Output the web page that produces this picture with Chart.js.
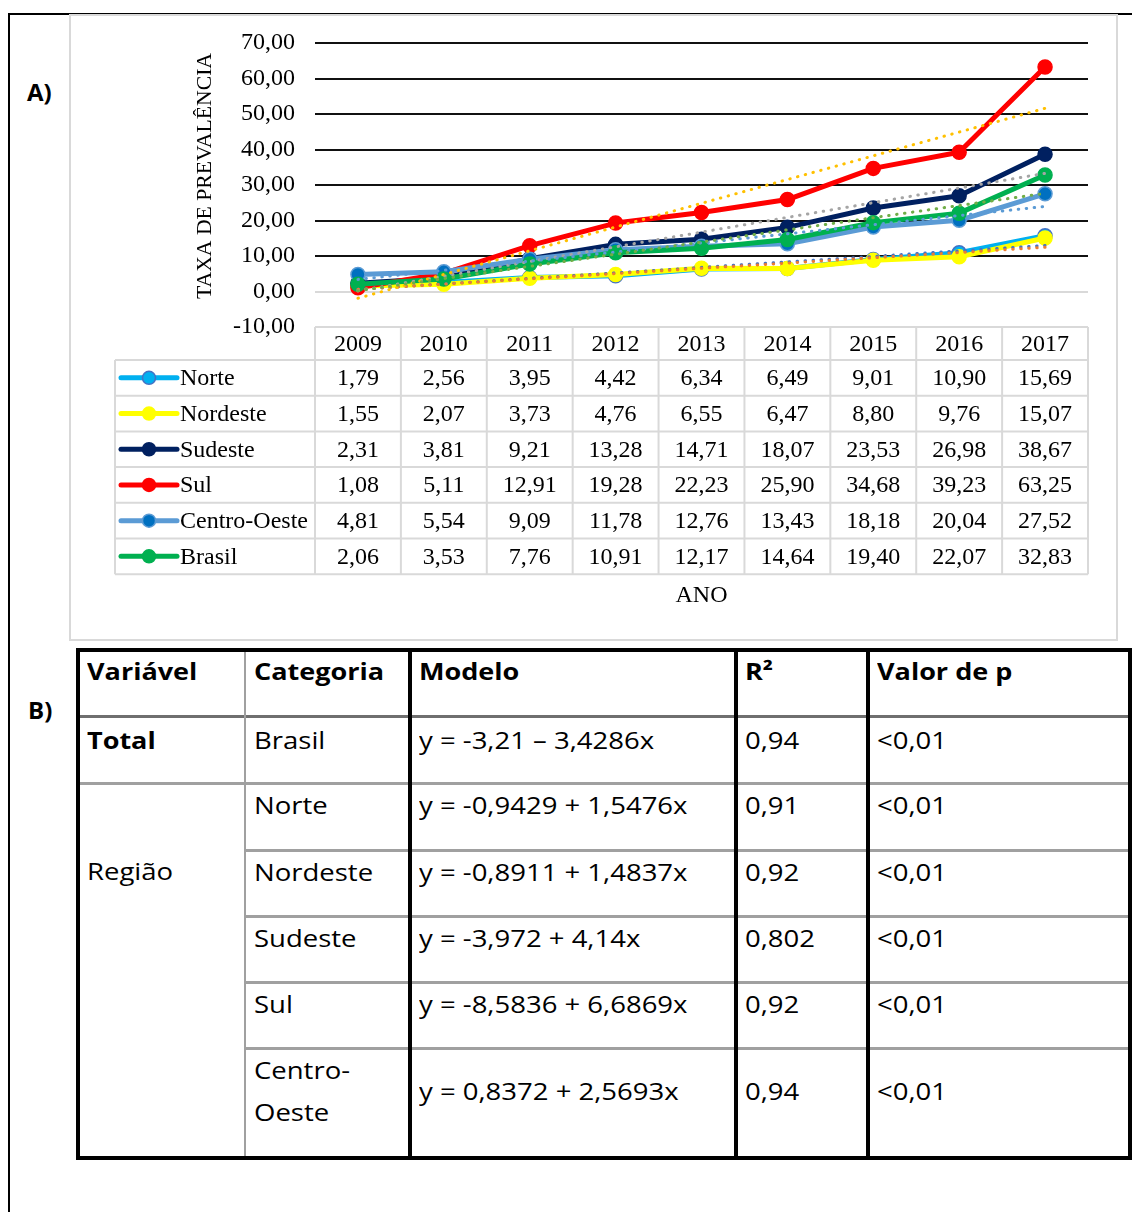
<!DOCTYPE html>
<html lang="pt-BR">
<head>
<meta charset="utf-8">
<title>Taxa de prevalência por região, 2009–2017</title>
<script src="https://cdn.jsdelivr.net/npm/chart.js@4.4.1/dist/chart.umd.min.js"></script>
<style>
  html, body { margin: 0; padding: 0; background: #fff; }
  body { width: 1132px; height: 1212px; position: relative; overflow: hidden; font-family: "Open Sans", sans-serif; }
  .frame { position: absolute; background: #000; }
  #caixa { position: absolute; left: 69px; top: 14px; width: 1049px; height: 627px; box-sizing: border-box; border: 2px solid #d9d9d9; }
  #grafico { position: absolute; left: 69px; top: 14px; }
  .painel { position: absolute; font-family: "Open Sans", sans-serif; font-weight: 700; font-size: 24px; line-height: 30px; color: #000; }
  .linha { position: absolute; }
  .cel { position: absolute; font-size: 23.5px; line-height: 32px; color: #000; white-space: nowrap; transform: scaleX(1.17); transform-origin: left center; }
  .cel.b { font-weight: 700; transform: scaleX(1.15); }
</style>
</head>
<body>
<div class="frame" style="left:8px;top:13px;width:1124px;height:2px"></div>
<div class="frame" style="left:8px;top:13px;width:2px;height:1199px"></div>
<div id="caixa"></div>
<canvas id="grafico" width="1049" height="627"></canvas>
<div class="painel" style="left:27px;top:77px">A)</div>
<div class="painel" style="left:28px;top:695px">B)</div>
<div id="tabelaB"></div>

<script>
// ---- dados: taxa de prevalência por região ----
const anos = ['2009', '2010', '2011', '2012', '2013', '2014', '2015', '2016', '2017'];
const regioes = ['Norte', 'Nordeste', 'Sudeste', 'Sul', 'Centro-Oeste', 'Brasil'];
const norte       = [1.79, 2.56, 3.95, 4.42, 6.34, 6.49, 9.01, 10.90, 15.69];
const nordeste    = [1.55, 2.07, 3.73, 4.76, 6.55, 6.47, 8.80, 9.76, 15.07];
const sudeste     = [2.31, 3.81, 9.21, 13.28, 14.71, 18.07, 23.53, 26.98, 38.67];
const sul         = [1.08, 5.11, 12.91, 19.28, 22.23, 25.90, 34.68, 39.23, 63.25];
const centroOeste = [4.81, 5.54, 9.09, 11.78, 12.76, 13.43, 18.18, 20.04, 27.52];
const brasil      = [2.06, 3.53, 7.76, 10.91, 12.17, 14.64, 19.40, 22.07, 32.83];
const valores = [norte, nordeste, sudeste, sul, centroOeste, brasil];

// eixo y
const yMin = -10, yMax = 70, yPasso = 10;

// modelos lineares (y = a + b·x, x = 1 para 2009) por região
const modeloIntercepto = [-0.9429, -0.8911, -3.972, -8.5836, 0.8372, -3.21];
const modeloInclinacao = [1.5476, 1.4837, 4.14, 6.6869, 2.5693, 3.4286];

// tabela B
const tabCabecalho = ['Variável', 'Categoria', 'Modelo', 'R²', 'Valor de p'];
const tabCategorias = ['Brasil', 'Norte', 'Nordeste', 'Sudeste', 'Sul', 'Centro-Oeste'];
const tabModelos = ['y = -3,21 – 3,4286x', 'y = -0,9429 + 1,5476x', 'y = -0,8911 + 1,4837x',
                    'y = -3,972 + 4,14x', 'y = -8,5836 + 6,6869x', 'y = 0,8372 + 2,5693x'];
const tabR2 = ['0,94', '0,91', '0,92', '0,802', '0,92', '0,94'];
const tabP = ['<0,01', '<0,01', '<0,01', '<0,01', '<0,01', '<0,01'];

// ---- estilos ----
const corLinha   = ['#00B0F0', '#FFFF00', '#002060', '#FF0000', '#5B9BD5', '#00B050'];
const corPonto   = ['#00B0F0', '#FFFF00', '#002060', '#FF0000', '#0070C0', '#00B050'];
const corBorda   = ['#4472C4', '#FFFF00', '#002060', '#FF0000', '#5B9BD5', '#00B050'];
const corTendencia = ['#4472C4', '#ED7D31', '#A5A5A5', '#FFC000', '#5B9BD5', '#70AD47'];

const fmt = v => v.toFixed(2).replace('.', ',');
const serif = '"Liberation Serif", "Times New Roman", serif';

const conjuntos = [];
regioes.forEach((nome, k) => {
  conjuntos.push({
    label: nome,
    data: valores[k],
    borderColor: corLinha[k],
    backgroundColor: corLinha[k],
    pointBackgroundColor: corPonto[k],
    pointBorderColor: corBorda[k],
    pointBorderWidth: 1.5,
    pointRadius: 7,
    borderWidth: 5,
    borderJoinStyle: 'round',
    borderCapStyle: 'round',
    order: 11 - k
  });
});
regioes.forEach((nome, k) => {
  conjuntos.push({
    label: 'Linear (' + nome + ')',
    data: anos.map((_, i) => modeloIntercepto[k] + modeloInclinacao[k] * (i + 1)),
    borderColor: corTendencia[k],
    borderWidth: 3,
    borderDash: [0.5, 7.5],
    borderCapStyle: 'round',
    pointRadius: 0,
    order: 5 - k
  });
});

// tabela de dados com legenda sob o gráfico + títulos dos eixos
const tabelaDados = {
  id: 'tabelaDados',
  afterDraw(chart) {
    const { ctx, chartArea: a, scales: { x } } = chart;
    const colW = (a.right - a.left) / anos.length;
    const yCab = a.bottom, hCab = 33, hLin = 35.7;
    const xLeg = a.left - 200;
    const yFim = yCab + hCab + hLin * regioes.length;
    ctx.save();
    ctx.strokeStyle = '#d9d9d9';
    ctx.lineWidth = 2;
    ctx.beginPath();
    ctx.moveTo(a.left, yCab); ctx.lineTo(a.right, yCab);
    for (let r = 0; r <= regioes.length; r++) {
      const yy = yCab + hCab + r * hLin;
      ctx.moveTo(xLeg, yy); ctx.lineTo(a.right, yy);
    }
    for (let c = 0; c <= anos.length; c++) {
      const xx = a.left + c * colW;
      ctx.moveTo(xx, yCab); ctx.lineTo(xx, yFim);
    }
    ctx.moveTo(xLeg, yCab + hCab); ctx.lineTo(xLeg, yFim);
    ctx.stroke();

    ctx.fillStyle = '#000';
    ctx.font = '24px ' + serif;
    ctx.textBaseline = 'middle';
    ctx.textAlign = 'center';
    anos.forEach((ano, i) => ctx.fillText(ano, x.getPixelForValue(i), yCab + hCab / 2 + 1));

    regioes.forEach((nome, r) => {
      const yc = yCab + hCab + (r + 0.5) * hLin;
      ctx.fillStyle = '#000';
      ctx.textAlign = 'center';
      valores[r].forEach((v, i) => ctx.fillText(fmt(v), x.getPixelForValue(i), yc + 1));
      // chave da legenda
      ctx.strokeStyle = corLinha[r];
      ctx.lineWidth = 5;
      ctx.lineCap = 'round';
      ctx.beginPath(); ctx.moveTo(xLeg + 6, yc); ctx.lineTo(xLeg + 62, yc); ctx.stroke();
      ctx.beginPath(); ctx.arc(xLeg + 34, yc, 6.5, 0, Math.PI * 2);
      ctx.fillStyle = corPonto[r]; ctx.fill();
      ctx.lineWidth = 1.5; ctx.strokeStyle = corBorda[r]; ctx.stroke();
      ctx.fillStyle = '#000';
      ctx.textAlign = 'left';
      ctx.fillText(nome, xLeg + 65, yc + 1);
    });

    // título do eixo x
    ctx.textAlign = 'center';
    ctx.fillText('ANO', (a.left + a.right) / 2, yFim + 22);

    // título do eixo y
    ctx.font = '21.7px ' + serif;
    ctx.translate(a.left - 110, a.top + 133);
    ctx.rotate(-Math.PI / 2);
    ctx.fillText('TAXA DE PREVALÊNCIA', 0, 0);
    ctx.restore();
  }
};

new Chart(document.getElementById('grafico'), {
  type: 'line',
  data: { labels: anos, datasets: conjuntos },
  plugins: [tabelaDados],
  options: {
    responsive: false,
    animation: false,
    layout: { padding: { top: 29, right: 30, bottom: 314, left: 0 } },
    plugins: { legend: { display: false }, tooltip: { enabled: false } },
    elements: { line: { tension: 0 } },
    scales: {
      x: {
        type: 'category',
        offset: true,
        ticks: { display: false },
        grid: { display: false },
        border: { display: false },
        afterFit: s => { s.height = 0; }
      },
      y: {
        min: yMin,
        max: yMax,
        ticks: {
          stepSize: yPasso,
          padding: 20,
          color: '#000',
          font: { family: serif, size: 24 },
          callback: v => fmt(v)
        },
        grid: {
          drawTicks: false,
          lineWidth: 2,
          color: c => c.tick.value === 0 ? '#d9d9d9' : (c.tick.value === yMin ? 'rgba(0,0,0,0)' : '#111')
        },
        border: { display: false },
        afterFit: s => { s.width = 246; s.paddingTop = 14; s.paddingBottom = 14; }
      }
    }
  }
});

// ---- tabela B ----
const colB = [78, 245, 410, 736, 868, 1130];
const rowB = [650, 716, 783, 850, 916, 982, 1048, 1158];
const alvo = document.getElementById('tabelaB');

function linhaH(x1, x2, y, esp, cor) {
  const d = document.createElement('div');
  d.className = 'linha';
  d.style.cssText = `left:${x1}px;top:${y - esp / 2}px;width:${x2 - x1}px;height:${esp}px;background:${cor}`;
  alvo.appendChild(d);
}
function linhaV(x, y1, y2, esp, cor) {
  const d = document.createElement('div');
  d.className = 'linha';
  d.style.cssText = `left:${x - esp / 2}px;top:${y1}px;width:${esp}px;height:${y2 - y1}px;background:${cor}`;
  alvo.appendChild(d);
}
function texto(t, col, cy, negrito) {
  const d = document.createElement('div');
  d.className = 'cel' + (negrito ? ' b' : '');
  d.textContent = t;
  d.style.left = (colB[col] + 9) + 'px';
  d.style.top = (cy - 16.7) + 'px';
  alvo.appendChild(d);
}

// linhas internas
linhaH(colB[0], colB[5], rowB[1], 3, '#6f6f6f');
linhaH(colB[0], colB[5], rowB[2], 3, '#a0a0a0');
for (let r = 3; r < rowB.length - 1; r++) linhaH(colB[1], colB[5], rowB[r], 3, '#a0a0a0');
linhaV(colB[1], rowB[0], rowB[7], 2.5, '#a0a0a0');
linhaV(colB[2], rowB[0], rowB[7], 4, '#000');
linhaV(colB[3], rowB[0], rowB[7], 4, '#000');
linhaV(colB[4], rowB[0], rowB[7], 4, '#000');
// contorno
linhaH(colB[0] - 2, colB[5] + 2, rowB[0], 4, '#000');
linhaH(colB[0] - 2, colB[5] + 2, rowB[7], 4, '#000');
linhaV(colB[0], rowB[0], rowB[7], 4, '#000');
linhaV(colB[5], rowB[0], rowB[7], 4, '#000');

// cabeçalho
tabCabecalho.forEach((t, c) => texto(t, c, rowB[0] + 22, true));
// linhas
texto('Total', 0, rowB[1] + 25, true);
texto('Região', 0, rowB[3] + 22, false);
tabCategorias.forEach((cat, i) => {
  const topo = rowB[i + 1];
  if (cat === 'Centro-Oeste') {
    texto('Centro-', 1, topo + 23, false);
    texto('Oeste', 1, topo + 65, false);
    texto(tabModelos[i], 2, topo + 44, false);
    texto(tabR2[i], 3, topo + 44, false);
    texto(tabP[i], 4, topo + 44, false);
  } else {
    const cy = topo + (i === 0 ? 25 : 23);
    texto(cat, 1, cy, false);
    texto(tabModelos[i], 2, cy, false);
    texto(tabR2[i], 3, cy, false);
    texto(tabP[i], 4, cy, false);
  }
});
</script>
</body>
</html>
